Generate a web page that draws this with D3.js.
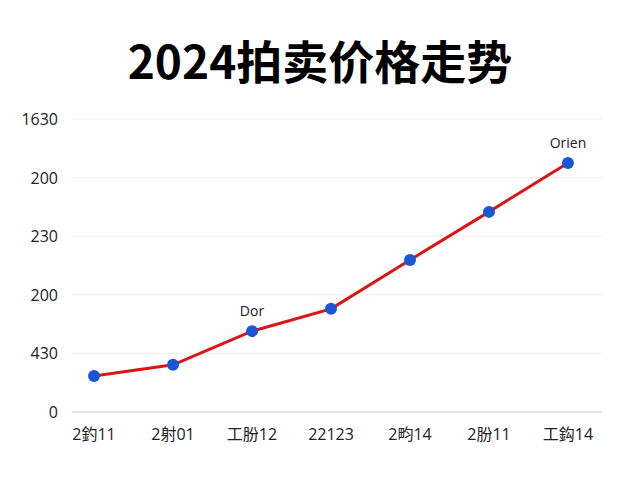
<!DOCTYPE html><html><head><meta charset="utf-8"><script src="https://cdn.jsdelivr.net/npm/d3@7"></script>
<style>body{margin:0;background:#fff}</style></head><body><svg width="640" height="480"></svg><script>
const categories=["2釣11","2射01","工朌12","22123","2畇14","2朌11","工鈎14"];
const values=[123,161,276,352,519,683,850];
const tickValues=[0,200,400,600,800,1000];
const tickLabels=["0","430","200","230","200","1630"];
const notes=[{i:2,text:"Dor"},{i:6,text:"Orien"}];
const svg=d3.select("svg");
const font="'Noto Sans CJK SC','Noto Sans',sans-serif";
const tfont="'Open Sans','Noto Sans CJK SC',sans-serif";
const x=d3.scalePoint().domain(categories).range([66,596]).padding(0.355);
const y=d3.scaleLinear().domain([0,1000]).range([412,119]);
svg.append("text").attr("x",320).attr("y",79).attr("text-anchor","middle").attr("font-family",font).attr("font-weight","bold").attr("font-size",46).text("2024拍卖价格走势");
svg.append("g").selectAll("line").data(tickValues.slice(1)).join("line").attr("x1",72).attr("x2",602).attr("y1",d=>y(d)).attr("y2",d=>y(d)).attr("stroke","#eee");
svg.append("line").attr("x1",72).attr("x2",602).attr("y1",y(0)).attr("y2",y(0)).attr("stroke","#ccc");
svg.append("g").selectAll("text").data(tickValues).join("text").attr("x",58).attr("y",d=>y(d)+6).attr("text-anchor","end").attr("font-family",tfont).attr("font-size",16).attr("fill","#222").text((d,i)=>tickLabels[i]);
svg.append("g").selectAll("text").data(categories).join("text").attr("x",d=>x(d)).attr("y",440).attr("text-anchor","middle").attr("font-family",tfont).attr("font-size",16).attr("fill","#222").text(d=>d);
svg.append("path").datum(values).attr("fill","none").attr("stroke","#d81616").attr("stroke-width",3).attr("d",d3.line().x((d,i)=>x(categories[i])).y(d=>y(d)));
svg.append("g").selectAll("circle").data(values).join("circle").attr("cx",(d,i)=>x(categories[i])).attr("cy",d=>y(d)).attr("r",6).attr("fill","#1a56d6");
svg.append("g").selectAll("text").data(notes).join("text").attr("x",d=>x(categories[d.i])).attr("y",d=>y(values[d.i])-15).attr("text-anchor","middle").attr("font-family",tfont).attr("font-size",14).attr("fill","#222").text(d=>d.text);
</script></body></html>
